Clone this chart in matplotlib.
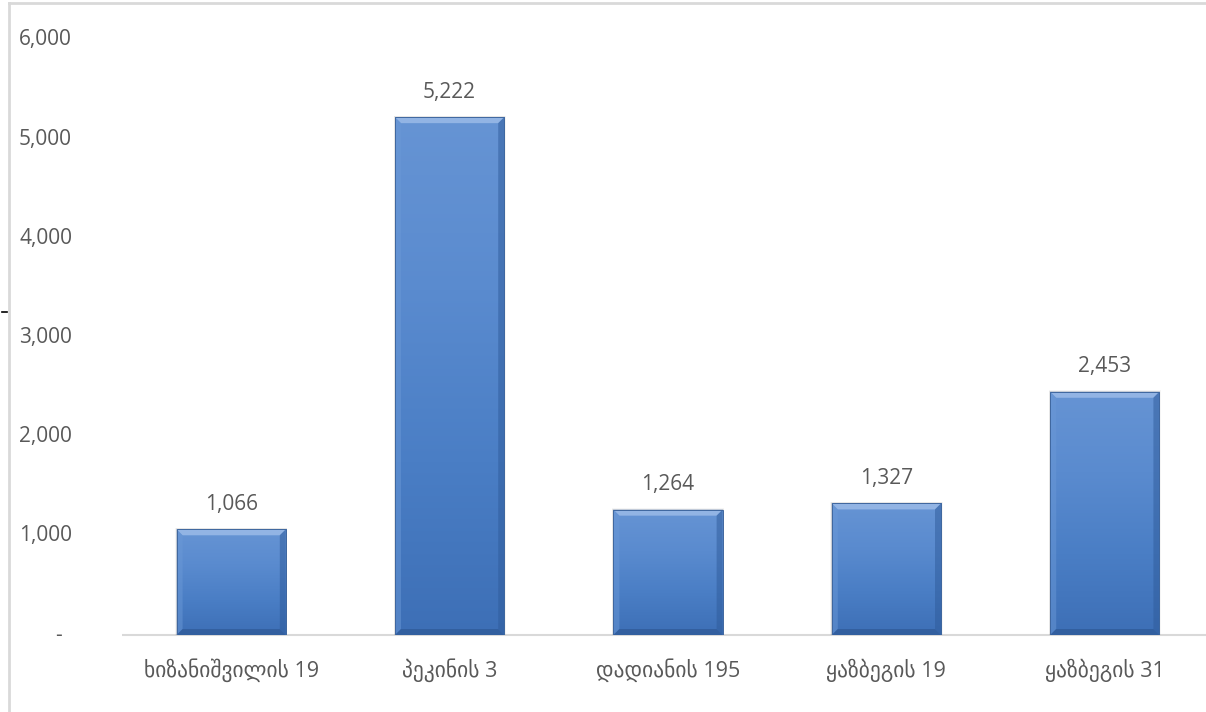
import numpy as np
import matplotlib
matplotlib.use('Agg')
import matplotlib.pyplot as plt
from matplotlib.patches import Rectangle, Polygon
from matplotlib.colors import LinearSegmentedColormap
from matplotlib.transforms import blended_transform_factory
from matplotlib.lines import Line2D

categories = ['ხიზანიშვილის 19', 'პეკინის 3', 'დადიანის 195', 'ყაზბეგის 19', 'ყაზბეგის 31']
values = [1066, 5222, 1264, 1327, 2453]
yticks = [0, 1000, 2000, 3000, 4000, 5000, 6000]

W, H = 1206, 712
FONT = ['Open Sans', 'DejaVu Sans']
TXT = '#595959'
fig = plt.figure(figsize=(W / 100, H / 100), dpi=100)

ax_l, ax_r, ax_t, ax_b = 122, 1214, 40, 635
ax = fig.add_axes([ax_l / W, 1 - ax_b / H, (ax_r - ax_l) / W, (ax_b - ax_t) / H])
ax.set_xlim(-0.5, len(categories) - 0.5)
ax.set_ylim(0, 6000)
ax.axis('off')

px_x = (len(categories)) / (ax_r - ax_l)   # data units per pixel (x)
px_y = 6000 / (ax_b - ax_t)                # data units per pixel (y)

cmap = LinearSegmentedColormap.from_list('bar', ['#3d6fb6', '#4a7ec5', '#5a8bcf', '#6694d4'])
grad = np.linspace(0, 1, 256).reshape(-1, 1)

bw = 0.5
b = 6  # bevel px
for i, v in enumerate(values):
    x0, x1 = i - bw / 2, i + bw / 2
    # soft shadow
    for k, a in [(3, 0.04), (2, 0.06), (1, 0.08)]:
        ax.add_patch(Rectangle((x0 - k * px_x * 0.5, 0 - k * px_y), bw + k * px_x, v + k * px_y * 1.5,
                               facecolor='#000000', alpha=a, edgecolor='none', zorder=1))
    rect = Rectangle((x0, 0), bw, v, facecolor='#4a7ec4', edgecolor='none', zorder=2)
    ax.add_patch(rect)
    im = ax.imshow(grad, cmap=cmap, extent=[x0, x1, 0, v], origin='lower', aspect='auto',
                   zorder=3, interpolation='bilinear')
    im.set_clip_path(rect)
    dx, dy = b * px_x, b * px_y
    # top bevel
    ax.add_patch(Polygon([[x0, v], [x1, v], [x1 - dx, v - dy], [x0 + dx, v - dy]],
                         closed=True, facecolor='#9bbbe8', edgecolor='none', alpha=0.85, zorder=4))
    # left bevel
    ax.add_patch(Polygon([[x0, 0], [x0, v], [x0 + dx, v - dy], [x0 + dx, dy]],
                         closed=True, facecolor='#6a98d6', edgecolor='none', alpha=0.5, zorder=4))
    # right bevel
    ax.add_patch(Polygon([[x1, 0], [x1, v], [x1 - dx, v - dy], [x1 - dx, dy]],
                         closed=True, facecolor='#2f5b9a', edgecolor='none', alpha=0.5, zorder=4))
    # bottom bevel
    ax.add_patch(Polygon([[x0, 0], [x1, 0], [x1 - dx, dy], [x0 + dx, dy]],
                         closed=True, facecolor='#2c5590', edgecolor='none', alpha=0.6, zorder=4))
    ax.add_patch(Rectangle((x0, 0), bw, v, facecolor='none', edgecolor='#3f679f', linewidth=0.7, zorder=5))
    ax.text(i, v + 25 * px_y, f'{v:,}', ha='center', va='center', fontsize=15, color=TXT,
            family=FONT, zorder=6)

# baseline
ax.plot([-0.5, len(categories) - 0.5], [0, 0], color='#d9d9d9', linewidth=1.5, zorder=0,
        solid_capstyle='butt', clip_on=False)

# category labels
for i, c in enumerate(categories):
    ax.text(i, -35 * px_y, c, ha='center', va='center', fontsize=15.5, color=TXT, family=FONT)

# y tick labels
tr = blended_transform_factory(fig.transFigure, ax.transData)
for t in yticks:
    if t == 0:
        ax.text(58 / W, t, '-', ha='center', va='center', fontsize=15, color=TXT, family=FONT,
                transform=tr, clip_on=False)
    else:
        ax.text(72 / W, t, f'{t:,}', ha='right', va='center', fontsize=15, color=TXT, family=FONT,
                transform=tr, clip_on=False)

# chart border
fig.add_artist(Line2D([8.5 / W, 8.5 / W], [0, 1 - 2.5 / H], transform=fig.transFigure,
                      color='#d9d9d9', linewidth=2))
fig.add_artist(Line2D([8.5 / W, 1], [1 - 2.5 / H, 1 - 2.5 / H], transform=fig.transFigure,
                      color='#d9d9d9', linewidth=2))
# small stray dash
fig.add_artist(Line2D([2 / W, 7 / W], [1 - 312 / H, 1 - 312 / H], transform=fig.transFigure,
                      color='#000000', linewidth=1.2))

fig.savefig('out.png', dpi=100, facecolor='white')
